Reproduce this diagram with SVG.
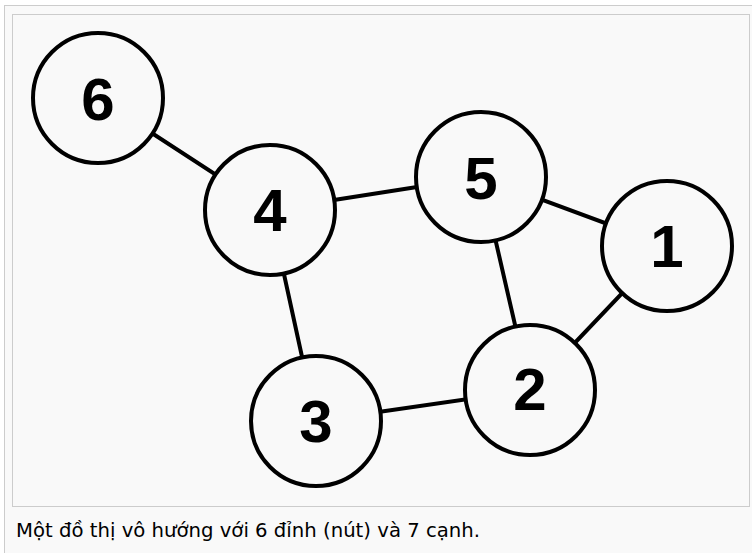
<svg xmlns="http://www.w3.org/2000/svg" width="752" height="553" viewBox="0 0 752 553">
  <style>
    .frame { fill: #f9f9f9; stroke: #cccccc; stroke-width: 1; }
    .edge { stroke: #000000; stroke-width: 4; stroke-linecap: round; }
    .node circle { fill: #f9f9f9; stroke: #000000; stroke-width: 4; }
    .node text { font-family: "Liberation Sans", Arial, sans-serif; font-weight: bold; font-size: 60px; text-anchor: middle; fill: #000000; }
    .caption { font-family: "DejaVu Sans", Verdana, sans-serif; font-size: 20px; fill: #000000; }
  </style>

  <rect width="752" height="553" fill="#ffffff"/>
  <!-- outer thumbnail frame -->
  <rect class="frame" x="4.5" y="5.5" width="760" height="560"/>
  <!-- image area -->
  <rect class="frame" x="12.5" y="14.5" width="737" height="492"/>

  <g id="edges">
    <line class="edge" x1="98" y1="98" x2="270" y2="210"/>
    <line class="edge" x1="270" y1="210" x2="481" y2="177"/>
    <line class="edge" x1="270" y1="210" x2="316" y2="421"/>
    <line class="edge" x1="481" y1="177" x2="667" y2="246"/>
    <line class="edge" x1="481" y1="177" x2="530" y2="390"/>
    <line class="edge" x1="667" y1="246" x2="530" y2="390"/>
    <line class="edge" x1="316" y1="421" x2="530" y2="390"/>
  </g>

  <g id="node-6" class="node">
    <circle cx="98" cy="98" r="65"/>
    <text x="98" y="119.5">6</text>
  </g>
  <g id="node-4" class="node">
    <circle cx="270" cy="210" r="65"/>
    <text x="270" y="231">4</text>
  </g>
  <g id="node-5" class="node">
    <circle cx="481" cy="177" r="65"/>
    <text x="481" y="198.5">5</text>
  </g>
  <g id="node-1" class="node">
    <circle cx="667" cy="246" r="65"/>
    <text x="667" y="267">1</text>
  </g>
  <g id="node-2" class="node">
    <circle cx="530" cy="390" r="65"/>
    <text x="530" y="410">2</text>
  </g>
  <g id="node-3" class="node">
    <circle cx="316" cy="421" r="65"/>
    <text x="316" y="442">3</text>
  </g>

  <text class="caption" x="16" y="537" textLength="464" lengthAdjust="spacingAndGlyphs">Một đồ thị vô hướng với 6 đỉnh (nút) và 7 cạnh.</text>
</svg>
